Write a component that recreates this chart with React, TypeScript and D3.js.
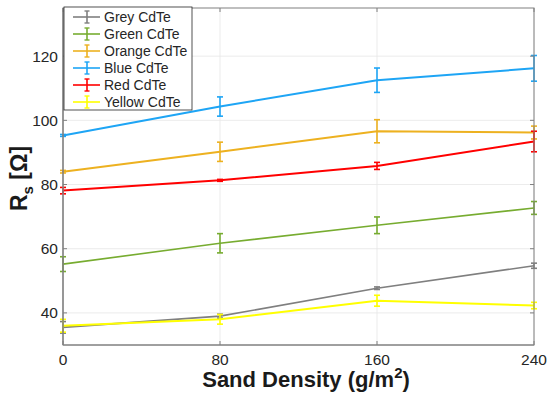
import React, { useEffect, useRef } from 'react';
import * as d3 from 'd3';

const densities = [0, 80, 160, 240];
const seriesNames = ['Grey CdTe', 'Green CdTe', 'Orange CdTe', 'Blue CdTe', 'Red CdTe', 'Yellow CdTe'];
const seriesColors = ['#7f7f7f', '#77ac30', '#edb120', '#1ea5f5', '#ff0000', '#ffff00'];
const greyValues = [35.5, 39, 47.7, 54.7];
const greyErrors = [1.8, 0.6, 0.4, 0.8];
const greenValues = [55.2, 61.7, 67.3, 72.7];
const greenErrors = [2.3, 3, 2.6, 2];
const orangeValues = [84, 90.2, 96.6, 96.2];
const orangeErrors = [0.4, 3, 3.6, 2];
const blueValues = [95.3, 104.3, 112.5, 116.2];
const blueErrors = [0.3, 3, 3.8, 4];
const redValues = [78.1, 81.3, 85.8, 93.4];
const redErrors = [1, 0.3, 1.1, 3.2];
const yellowValues = [36, 38, 43.8, 42.3];
const yellowErrors = [2, 1.5, 1.7, 1];
const yTicks = [40, 60, 80, 100, 120];

const allValues = [greyValues, greenValues, orangeValues, blueValues, redValues, yellowValues];
const allErrors = [greyErrors, greenErrors, orangeErrors, blueErrors, redErrors, yellowErrors];

export default function App() {
  const ref = useRef<SVGSVGElement>(null);

  useEffect(() => {
    const width = 550;
    const height = 394;
    const m = { left: 63, right: 16, top: 8, bottom: 49 };
    const svg = d3.select(ref.current).attr('width', width).attr('height', height);
    svg.selectAll('*').remove();

    const x = d3.scaleLinear().domain([0, 240]).range([m.left, width - m.right]);
    const y = d3.scaleLinear().domain([30, 135]).range([height - m.bottom, m.top]);
    const font = 'Arial, "Liberation Sans", Helvetica, sans-serif';

    svg.append('rect').attr('width', width).attr('height', height).attr('fill', '#fff');

    // grid
    const g = svg.append('g');
    g.selectAll('.gx').data(densities).enter().append('line')
      .attr('x1', d => x(d)).attr('x2', d => x(d))
      .attr('y1', y(30)).attr('y2', y(135))
      .attr('stroke', '#e6e6e6').attr('stroke-width', 0.8);
    g.selectAll('.gy').data(yTicks).enter().append('line')
      .attr('x1', x(0)).attr('x2', x(240))
      .attr('y1', d => y(d)).attr('y2', d => y(d))
      .attr('stroke', '#e6e6e6').attr('stroke-width', 0.8);

    // series
    const line = d3.line<number>().x((_, i) => x(densities[i])).y(d => y(d));
    allValues.forEach((vals, s) => {
      const col = seriesColors[s];
      const sg = svg.append('g');
      sg.append('path').attr('d', line(vals)).attr('fill', 'none')
        .attr('stroke', col).attr('stroke-width', s === 0 || s === 1 ? 1.6 : 2);
      vals.forEach((v, i) => {
        const e = allErrors[s][i];
        const cx = x(densities[i]);
        sg.append('line').attr('x1', cx).attr('x2', cx)
          .attr('y1', y(v - e)).attr('y2', y(v + e))
          .attr('stroke', col).attr('stroke-width', 1.6);
        [v - e, v + e].forEach(t => {
          sg.append('line').attr('x1', cx - 3).attr('x2', cx + 3)
            .attr('y1', y(t)).attr('y2', y(t))
            .attr('stroke', col).attr('stroke-width', 1.6);
        });
      });
    });

    // box
    svg.append('rect')
      .attr('x', x(0)).attr('y', y(135))
      .attr('width', x(240) - x(0)).attr('height', y(30) - y(135))
      .attr('fill', 'none').attr('stroke', '#808080').attr('stroke-width', 1);
    svg.append('line').attr('x1', x(0)).attr('x2', x(240)).attr('y1', y(30)).attr('y2', y(30))
      .attr('stroke', '#808080').attr('stroke-width', 1.2);
    svg.append('line').attr('x1', x(0)).attr('x2', x(0)).attr('y1', y(30)).attr('y2', y(135))
      .attr('stroke', '#808080').attr('stroke-width', 1.2);

    // ticks
    densities.forEach(d => {
      svg.append('line').attr('x1', x(d)).attr('x2', x(d)).attr('y1', y(30)).attr('y2', y(30) - 4)
        .attr('stroke', '#808080');
      svg.append('line').attr('x1', x(d)).attr('x2', x(d)).attr('y1', y(135)).attr('y2', y(135) + 4)
        .attr('stroke', '#808080');
      svg.append('text').attr('x', x(d)).attr('y', y(30) + 20)
        .attr('text-anchor', 'middle').attr('font-family', font).attr('font-size', 15.5)
        .attr('fill', '#262626').text(d);
    });
    yTicks.forEach(t => {
      svg.append('line').attr('x1', x(0)).attr('x2', x(0) + 4).attr('y1', y(t)).attr('y2', y(t))
        .attr('stroke', '#808080');
      svg.append('line').attr('x1', x(240)).attr('x2', x(240) - 4).attr('y1', y(t)).attr('y2', y(t))
        .attr('stroke', '#808080');
      svg.append('text').attr('x', x(0) - 5).attr('y', y(t) + 5.5)
        .attr('text-anchor', 'end').attr('font-family', font).attr('font-size', 15.5)
        .attr('fill', '#262626').text(t);
    });

    // axis labels
    const xl = svg.append('text').attr('x', 306).attr('y', 387)
      .attr('text-anchor', 'middle').attr('font-family', font).attr('font-size', 22)
      .attr('font-weight', 'bold').attr('fill', '#1a1a1a');
    xl.append('tspan').text('Sand Density (g/m');
    xl.append('tspan').attr('dy', -9).attr('font-size', 15).text('2');
    xl.append('tspan').attr('dy', 9).text(')');

    const yl = svg.append('text')
      .attr('transform', `translate(27, ${(y(30) + y(135)) / 2 + 2}) rotate(-90)`)
      .attr('text-anchor', 'middle').attr('font-family', font).attr('font-size', 23)
      .attr('font-weight', 'bold').attr('fill', '#1a1a1a');
    yl.append('tspan').text('R');
    yl.append('tspan').attr('dy', 6).attr('font-size', 15).text('s');
    yl.append('tspan').attr('dy', -6).text(' [Ω]');

    // legend
    const lg = svg.append('g');
    lg.append('rect').attr('x', 64).attr('y', 7).attr('width', 128).attr('height', 103)
      .attr('fill', '#fff').attr('stroke', '#262626').attr('stroke-width', 0.8);
    seriesNames.forEach((name, i) => {
      const ly = 17 + i * 17;
      const col = seriesColors[i];
      lg.append('line').attr('x1', 73).attr('x2', 100).attr('y1', ly).attr('y2', ly)
        .attr('stroke', col).attr('stroke-width', 1.6);
      lg.append('line').attr('x1', 87).attr('x2', 87).attr('y1', ly - 6).attr('y2', ly + 6)
        .attr('stroke', col).attr('stroke-width', 1.6);
      [ly - 6, ly + 6].forEach(t => {
        lg.append('line').attr('x1', 84.5).attr('x2', 89.5).attr('y1', t).attr('y2', t)
          .attr('stroke', col).attr('stroke-width', 1.4);
      });
      lg.append('text').attr('x', 104).attr('y', ly + 5)
        .attr('font-family', font).attr('font-size', 14).attr('fill', '#262626').text(name);
    });
  }, []);

  return <svg ref={ref} style={{ position: 'absolute', left: 0, top: 0 }} />;
}
